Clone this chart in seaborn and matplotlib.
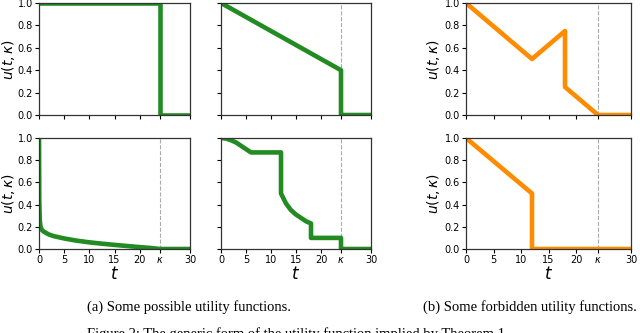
import matplotlib
matplotlib.use('Agg')
import matplotlib.pyplot as plt
import pandas as pd
import seaborn as sns

KAPPA = 24

# (a) possible utility functions
step_t = [0, 24, 24, 30]
step_u = [1.0, 1.0, 0.0, 0.0]

linear_t = [0, 24, 24, 30]
linear_u = [1.0, 0.4, 0.0, 0.0]

decay_t = [0, 0.05, 0.15, 0.3, 0.6, 1, 2, 3, 5, 7.5, 10, 12.5, 15, 17.5, 20, 22, 24, 30]
decay_u = [1.0, 0.45, 0.26, 0.2, 0.17, 0.155, 0.13, 0.115, 0.095, 0.075, 0.06, 0.048,
           0.037, 0.027, 0.017, 0.01, 0.0, 0.0]

stairs_t = [0, 1, 2, 3, 4, 5, 6, 12, 12, 13, 14, 15, 16, 17, 18, 18, 24, 24, 30]
stairs_u = [1.0, 0.995, 0.98, 0.96, 0.93, 0.9, 0.87, 0.87, 0.5, 0.41, 0.35, 0.31,
            0.28, 0.25, 0.23, 0.1, 0.1, 0.0, 0.0]

# (b) forbidden utility functions
bump_t = [0, 12, 18, 18, 24, 30]
bump_u = [1.0, 0.5, 0.75, 0.25, 0.0, 0.0]

early_t = [0, 12, 12, 30]
early_u = [1.0, 0.5, 0.0, 0.0]

xticks = [0, 5, 10, 15, 20, 24, 30]
xticklabels = ['0', '5', '10', '15', '20', r'$\kappa$', '30']
yticks = [0, 0.2, 0.4, 0.6, 0.8, 1.0]
yticklabels = ['0.0', '0.2', '0.4', '0.6', '0.8', '1.0']

W, H = 640, 333
fig = plt.figure(figsize=(W / 100, H / 100), dpi=100)


def make_ax(x0, x1, y0, y1):
    # pixel box -> figure fraction
    return fig.add_axes([x0 / W, (H - y1) / H, (x1 - x0) / W, (y1 - y0) / H])


panels = [
    # t, u, color, box, show ylabels, show xlabels
    (step_t, step_u, 'forestgreen', (39, 190, 3, 115), True, False),
    (linear_t, linear_u, 'forestgreen', (221, 371, 3, 115), False, False),
    (decay_t, decay_u, 'forestgreen', (39, 190, 138, 249), True, True),
    (stairs_t, stairs_u, 'forestgreen', (221, 371, 138, 249), False, True),
    (bump_t, bump_u, 'darkorange', (466, 631, 3, 115), True, False),
    (early_t, early_u, 'darkorange', (466, 631, 138, 249), True, True),
]

for t, u, col, box, ylab, xlab in panels:
    ax = make_ax(*box)
    df = pd.DataFrame({'t': t, 'u': u})
    ax.axvline(KAPPA, color='#aaaaaa', ls='--', lw=0.8, zorder=1)
    sns.lineplot(data=df, x='t', y='u', ax=ax, color=col, lw=3.3,
                 estimator=None, sort=False, legend=False, zorder=2)
    ax.set_xlim(0, 30)
    ax.set_ylim(0, 1)
    ax.set_xticks(xticks)
    ax.set_yticks(yticks)
    ax.tick_params(labelsize=7, length=3, width=0.8, pad=1.5)
    for s in ax.spines.values():
        s.set_color('#333333')
        s.set_linewidth(0.9)
    if xlab:
        ax.set_xticklabels(xticklabels)
        ax.set_xlabel(r'$t$', fontsize=12, labelpad=0)
    else:
        ax.set_xticklabels([])
        ax.set_xlabel('')
    if ylab:
        ax.set_yticklabels(yticklabels)
        ax.set_ylabel(r'$u(t,\kappa)$', fontsize=10)
        # right edge of the rotated label, in pixels
        edge_px = 17 if box[0] < 100 else 442
        ax.yaxis.set_label_coords((edge_px - box[0]) / (box[1] - box[0]), 0.5)
    else:
        ax.set_yticklabels([])
        ax.set_ylabel('')

serif = ['Liberation Serif', 'DejaVu Serif']
fig.text(189 / W, 1 - 307 / H, '(a) Some possible utility functions.',
         ha='center', va='center', fontsize=10.5, family=serif)
fig.text(530 / W, 1 - 307 / H, '(b) Some forbidden utility functions.',
         ha='center', va='center', fontsize=10.5, family=serif)
fig.text(298 / W, 1 - 327 / H,
         'Figure 2: The generic form of the utility function implied by Theorem 1.',
         ha='center', va='top', fontsize=10.5, family=serif)

fig.savefig('out.png', dpi=100)
